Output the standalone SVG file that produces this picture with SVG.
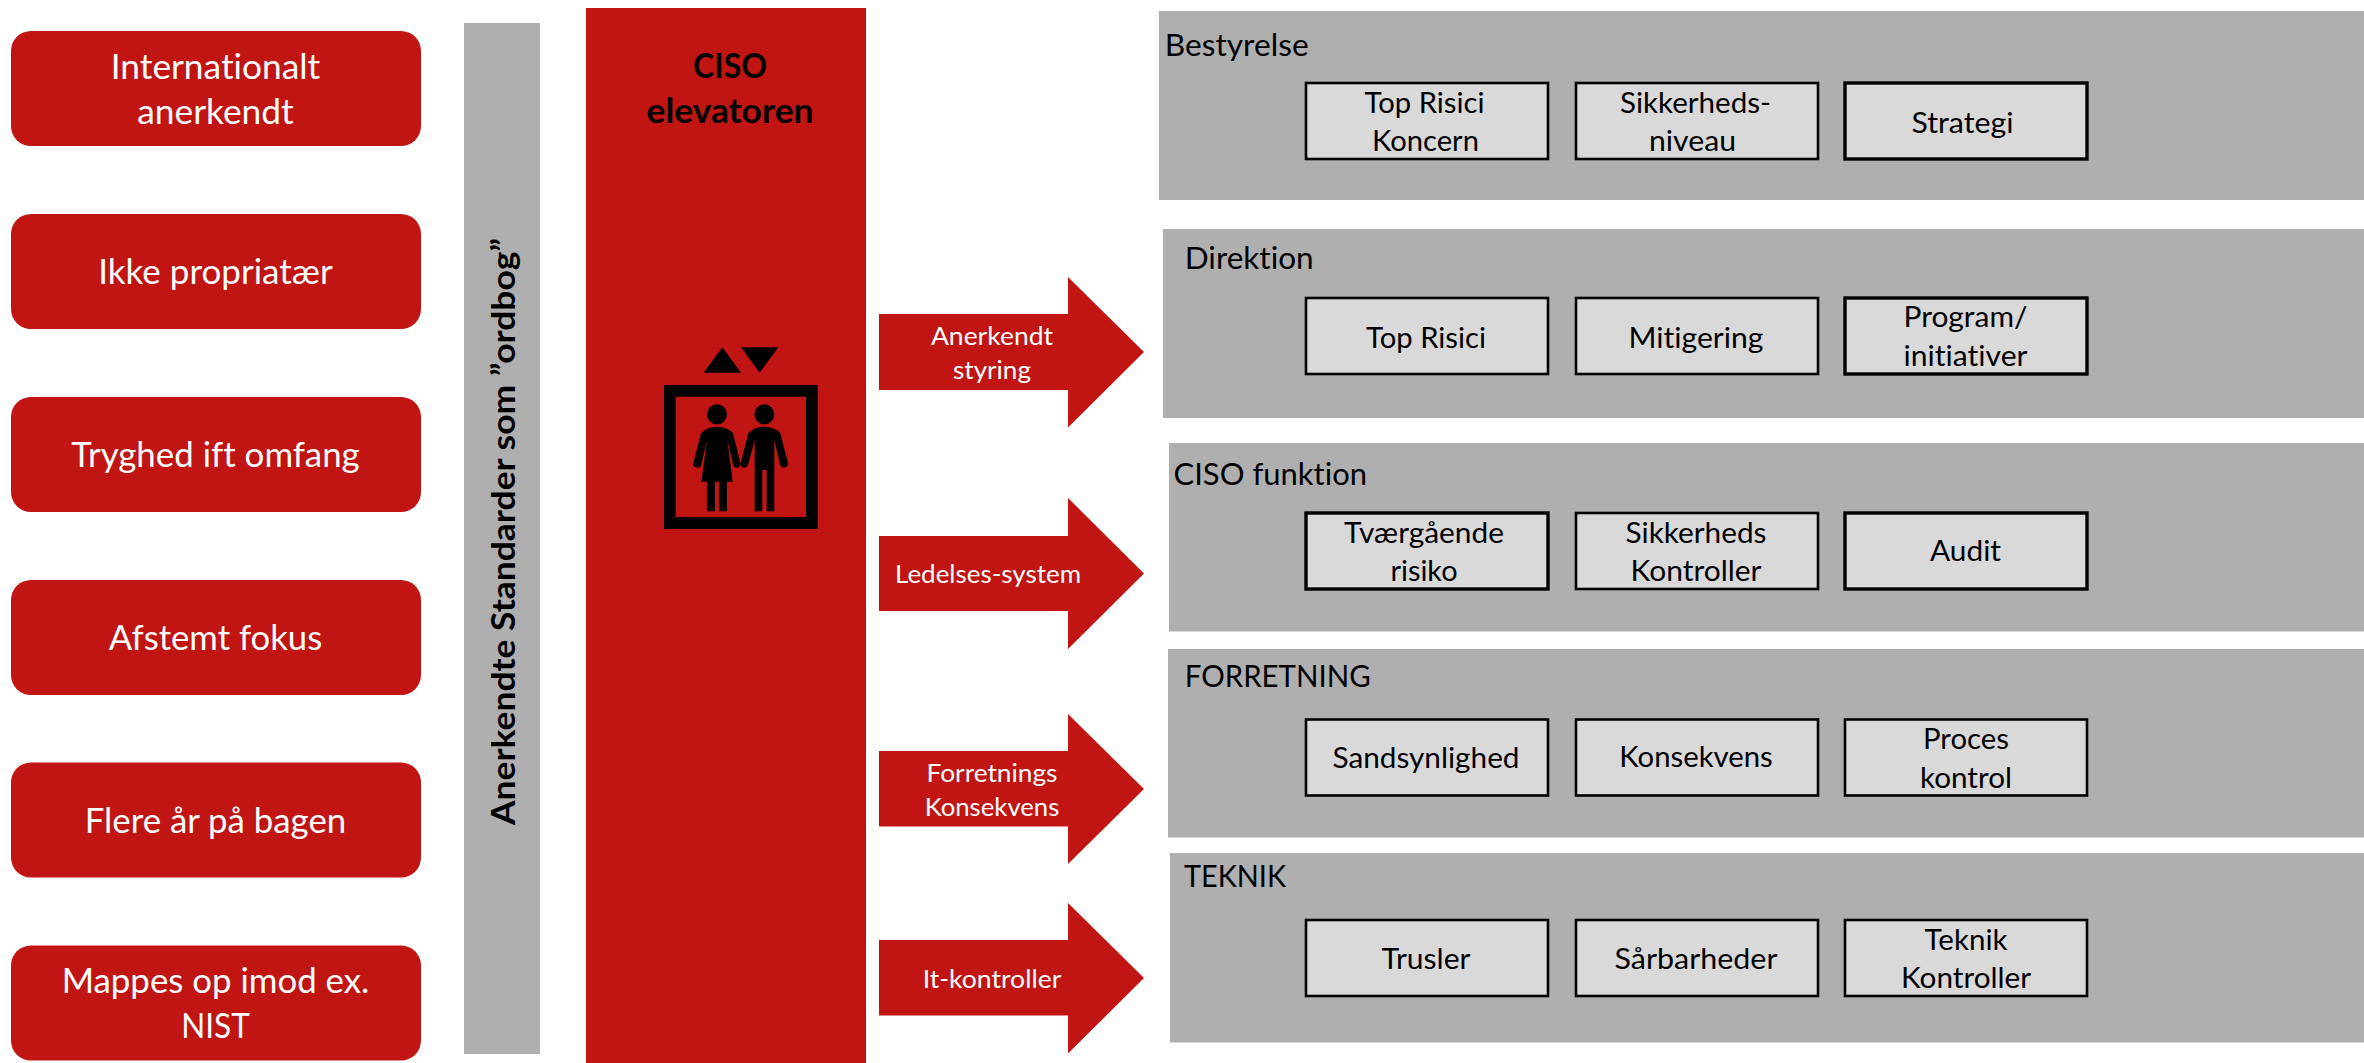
<svg xmlns="http://www.w3.org/2000/svg" width="2364" height="1063" viewBox="0 0 2364 1063">
<style>
text{font-family:Lato,"Liberation Sans",sans-serif;text-anchor:middle;font-variant-ligatures:none}
.red{fill:#C01512}
.pan{fill:#AFAFAF}
.in{fill:#D9D9D9;stroke:#000;stroke-width:2.6}
.th{stroke-width:3.4}
.l{font-size:35px;fill:#fff}
.a{font-size:25px;fill:#fff}
.i{font-size:29.5px;fill:#000}
.t{font-size:31px;fill:#000;text-anchor:start}
.b{font-size:35px;font-weight:700;fill:#000}
</style>
<rect width="2364" height="1063" fill="#fff"/>
<g id="left-items">
<g id="item-1"><rect class="red" x="11" y="31" width="410" height="115" rx="20"/><text class="l" x="215.5" y="78.5" textLength="209.5" lengthAdjust="spacingAndGlyphs">Internationalt</text><text class="l" x="215.5" y="123.5" textLength="156.5" lengthAdjust="spacingAndGlyphs">anerkendt</text></g>
<g id="item-2"><rect class="red" x="11" y="214" width="410" height="115" rx="20"/><text class="l" x="215.5" y="283.5" textLength="234.5" lengthAdjust="spacingAndGlyphs">Ikke propriatær</text></g>
<g id="item-3"><rect class="red" x="11" y="397" width="410" height="115" rx="20"/><text class="l" x="215.5" y="466.5" textLength="288.5" lengthAdjust="spacingAndGlyphs">Tryghed ift omfang</text></g>
<g id="item-4"><rect class="red" x="11" y="580" width="410" height="115" rx="20"/><text class="l" x="215.5" y="649.5" textLength="213.5" lengthAdjust="spacingAndGlyphs">Afstemt fokus</text></g>
<g id="item-5"><rect class="red" x="11" y="762.5" width="410" height="115" rx="20"/><text class="l" x="215.5" y="832.5" textLength="261.5" lengthAdjust="spacingAndGlyphs">Flere år på bagen</text></g>
<g id="item-6"><rect class="red" x="11" y="945.5" width="410" height="115" rx="20"/><text class="l" x="215.5" y="993" textLength="307.5" lengthAdjust="spacingAndGlyphs">Mappes op imod ex.</text><text class="l" x="215.5" y="1037.5" textLength="68.5" lengthAdjust="spacingAndGlyphs">NIST</text></g>
</g>
<g id="standards-bar"><rect class="pan" x="464" y="23" width="76" height="1031"/><text class="b" transform="translate(515 531.5) rotate(-90)" style="font-size:33px" textLength="587" lengthAdjust="spacingAndGlyphs">Anerkendte Standarder som ”ordbog”</text></g>
<g id="elevator">
<rect class="red" x="586" y="8" width="280" height="1055"/>
<text class="b" x="730" y="78" textLength="74" lengthAdjust="spacingAndGlyphs">CISO</text>
<text class="b" x="730" y="122.5" textLength="167" lengthAdjust="spacingAndGlyphs">elevatoren</text>
<g id="elevator-icon" transform="translate(640 330) scale(.33333)">
<path d="M72 165H533V597H72ZM107 200V561H498V200Z" fill-rule="evenodd"/>
<path d="M247 52L303 128H191ZM303 52H415L359 128Z"/>
<circle cx="231" cy="253" r="30"/><circle cx="373" cy="253" r="30"/>
<path d="M183 310Q200 290 231 290Q262 290 279 310L301 398Q303 413 290 413Q280 413 279 403L262 330L278 455H261V544H237V455H225V544H201V455H184L201 330L184 403Q183 413 172 413Q158 413 160 398Z"/>
<path d="M325 310Q342 290 373 290Q404 290 421 310L444 398Q446 413 432 413Q422 413 420 403L403 330V544H380V420H367V544H344V330L325 403Q323 413 313 413Q300 413 302 398Z"/>
</g>
</g>
<g id="connectors">
<path class="red" d="M879 314H1068V277L1144 352L1068 427.5V390H879Z"/>
<path class="red" d="M879 536H1068V498L1144 573.5L1068 649V611H879Z"/>
<path class="red" d="M879 751H1068V714L1144 789L1068 864V826.5H879Z"/>
<path class="red" d="M879 940H1068V903L1144 978L1068 1053.5V1015.5H879Z"/>
<text class="a" x="992" y="344.5" textLength="122" lengthAdjust="spacingAndGlyphs">Anerkendt</text>
<text class="a" x="992" y="378.5" textLength="78" lengthAdjust="spacingAndGlyphs">styring</text>
<text class="a" x="988" y="583" textLength="186" lengthAdjust="spacingAndGlyphs">Ledelses-system</text>
<text class="a" x="992" y="782" textLength="131" lengthAdjust="spacingAndGlyphs">Forretnings</text>
<text class="a" x="992" y="816" textLength="134.7" lengthAdjust="spacingAndGlyphs">Konsekvens</text>
<text class="a" x="992" y="988" textLength="138.7" lengthAdjust="spacingAndGlyphs">It-kontroller</text>
</g>
<g id="bestyrelse"><rect class="pan" x="1159" y="11" width="1205" height="189"/><text class="t" x="1164.7" y="56" textLength="144" lengthAdjust="spacingAndGlyphs">Bestyrelse</text>
<rect class="in" x="1306" y="83" width="242" height="76"/><text class="i" x="1424.5" y="112.5" textLength="120" lengthAdjust="spacingAndGlyphs">Top Risici</text><text class="i" x="1425.5" y="151" textLength="107" lengthAdjust="spacingAndGlyphs">Koncern</text>
<rect class="in" x="1576" y="83" width="242" height="76"/><text class="i" x="1695.5" y="112.5" textLength="151" lengthAdjust="spacingAndGlyphs">Sikkerheds-</text><text class="i" x="1692.5" y="151" textLength="87" lengthAdjust="spacingAndGlyphs">niveau</text>
<rect class="in th" x="1845" y="83" width="242" height="76"/><text class="i" x="1962.5" y="132.5" textLength="102" lengthAdjust="spacingAndGlyphs">Strategi</text></g>
<g id="direktion"><rect class="pan" x="1163" y="229" width="1201" height="189"/><text class="t" x="1184.7" y="268.5" textLength="129" lengthAdjust="spacingAndGlyphs">Direktion</text>
<rect class="in" x="1306" y="298" width="242" height="76"/><text class="i" x="1426" y="347.5" textLength="120" lengthAdjust="spacingAndGlyphs">Top Risici</text>
<rect class="in" x="1576" y="298" width="242" height="76"/><text class="i" x="1696" y="347.5" textLength="135" lengthAdjust="spacingAndGlyphs">Mitigering</text>
<rect class="in th" x="1845" y="298" width="242" height="76"/><text class="i" x="1965.5" y="326.5" textLength="124" lengthAdjust="spacingAndGlyphs">Program/</text><text class="i" x="1965.5" y="365.5" textLength="124" lengthAdjust="spacingAndGlyphs">initiativer</text></g>
<g id="ciso-funktion"><rect class="pan" x="1169" y="443" width="1195" height="188.5"/><text class="t" x="1173.5" y="484.5" textLength="193.5" lengthAdjust="spacingAndGlyphs">CISO funktion</text>
<rect class="in th" x="1306" y="513" width="242" height="76"/><text class="i" x="1424" y="543" textLength="160" lengthAdjust="spacingAndGlyphs">Tværgående</text><text class="i" x="1424" y="581" textLength="67" lengthAdjust="spacingAndGlyphs">risiko</text>
<rect class="in" x="1576" y="513" width="242" height="76"/><text class="i" x="1696" y="543" textLength="141" lengthAdjust="spacingAndGlyphs">Sikkerheds</text><text class="i" x="1696" y="581" textLength="131" lengthAdjust="spacingAndGlyphs">Kontroller</text>
<rect class="in th" x="1845" y="513" width="242" height="76"/><text class="i" x="1965.5" y="561" textLength="71" lengthAdjust="spacingAndGlyphs">Audit</text></g>
<g id="forretning"><rect class="pan" x="1168" y="649" width="1196" height="188.5"/><text class="t" x="1184.7" y="687" textLength="186" lengthAdjust="spacingAndGlyphs">FORRETNING</text>
<rect class="in" x="1306" y="719.5" width="242" height="76"/><text class="i" x="1426" y="768" textLength="187" lengthAdjust="spacingAndGlyphs">Sandsynlighed</text>
<rect class="in" x="1576" y="719.5" width="242" height="76"/><text class="i" x="1696" y="767" textLength="153.5" lengthAdjust="spacingAndGlyphs">Konsekvens</text>
<rect class="in" x="1845" y="719.5" width="242" height="76"/><text class="i" x="1966" y="748.5" textLength="86" lengthAdjust="spacingAndGlyphs">Proces</text><text class="i" x="1966" y="787.5" textLength="92" lengthAdjust="spacingAndGlyphs">kontrol</text></g>
<g id="teknik"><rect class="pan" x="1170" y="853" width="1194" height="189.5"/><text class="t" x="1184" y="887" textLength="102" lengthAdjust="spacingAndGlyphs">TEKNIK</text>
<rect class="in" x="1306" y="920" width="242" height="76"/><text class="i" x="1426" y="968.5" textLength="89" lengthAdjust="spacingAndGlyphs">Trusler</text>
<rect class="in" x="1576" y="920" width="242" height="76"/><text class="i" x="1696" y="968.5" textLength="163" lengthAdjust="spacingAndGlyphs">Sårbarheder</text>
<rect class="in" x="1845" y="920" width="242" height="76"/><text class="i" x="1966" y="950" textLength="83" lengthAdjust="spacingAndGlyphs">Teknik</text><text class="i" x="1966" y="988" textLength="130" lengthAdjust="spacingAndGlyphs">Kontroller</text></g>
</svg>
